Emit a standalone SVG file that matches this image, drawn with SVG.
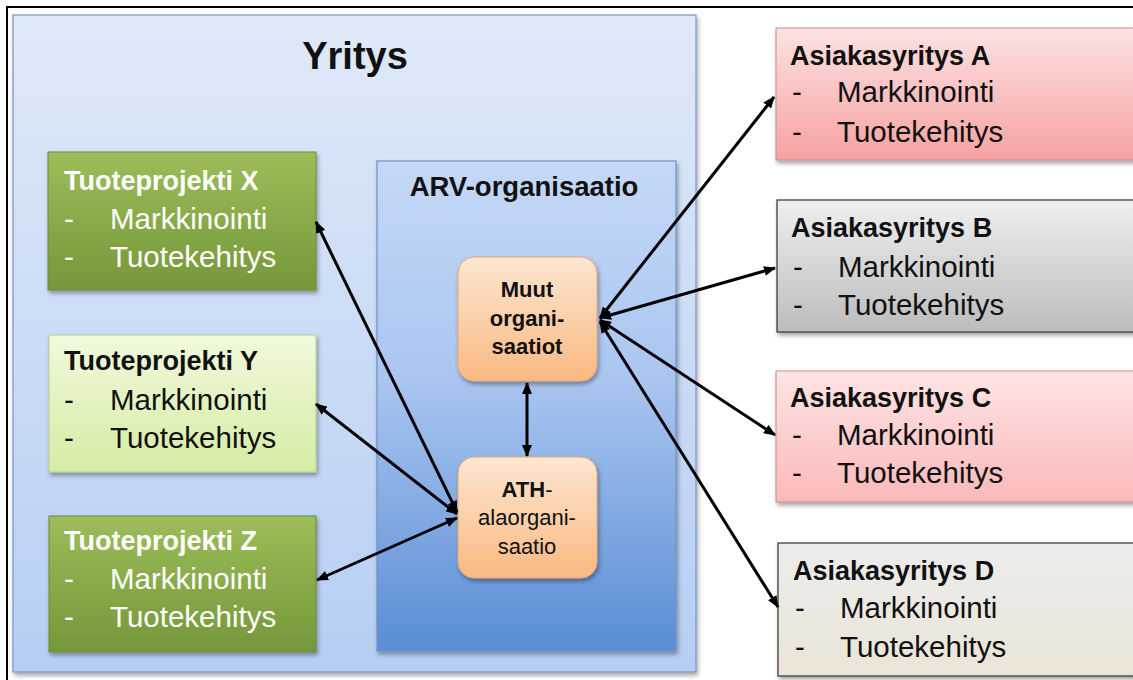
<svg xmlns="http://www.w3.org/2000/svg" width="1133" height="680" viewBox="0 0 1133 680">
  <defs>
    <linearGradient id="gYritys" x1="0" y1="0" x2="0" y2="1">
      <stop offset="0" stop-color="#dfe9f8"/>
      <stop offset="1" stop-color="#b6cef4"/>
    </linearGradient>
    <linearGradient id="gArv" x1="0" y1="0" x2="0" y2="1">
      <stop offset="0" stop-color="#c5d8f7"/>
      <stop offset="0.45" stop-color="#a9c5f0"/>
      <stop offset="1" stop-color="#5a8dd5"/>
    </linearGradient>
    <linearGradient id="gOrange" x1="0" y1="0" x2="0" y2="1">
      <stop offset="0" stop-color="#fde6d1"/>
      <stop offset="1" stop-color="#fab981"/>
    </linearGradient>
    <linearGradient id="gGreen" x1="0" y1="0" x2="0" y2="1">
      <stop offset="0" stop-color="#9cbd59"/>
      <stop offset="1" stop-color="#76973a"/>
    </linearGradient>
    <linearGradient id="gLight" x1="0" y1="0" x2="0" y2="1">
      <stop offset="0" stop-color="#f1f9dc"/>
      <stop offset="1" stop-color="#d5eca4"/>
    </linearGradient>
    <linearGradient id="gRed" x1="0" y1="0" x2="0" y2="1">
      <stop offset="0" stop-color="#fde2e2"/>
      <stop offset="1" stop-color="#f6a2a2"/>
    </linearGradient>
    <linearGradient id="gRedLight" x1="0" y1="0" x2="0" y2="1">
      <stop offset="0" stop-color="#fee4e4"/>
      <stop offset="1" stop-color="#fbb9b9"/>
    </linearGradient>
    <linearGradient id="gGray" x1="0" y1="0" x2="0" y2="1">
      <stop offset="0" stop-color="#efefef"/>
      <stop offset="1" stop-color="#bcbcbc"/>
    </linearGradient>
    <linearGradient id="gBeige" x1="0" y1="0" x2="0" y2="1">
      <stop offset="0" stop-color="#ececec"/>
      <stop offset="1" stop-color="#ebe5d7"/>
    </linearGradient>
    <filter id="shadow" x="-10%" y="-10%" width="125%" height="130%">
      <feDropShadow dx="1.5" dy="3" stdDeviation="2" flood-color="#000" flood-opacity="0.35"/>
    </filter>
    <marker id="arrow" viewBox="0 0 12 10" refX="11" refY="5" markerWidth="12" markerHeight="10" markerUnits="userSpaceOnUse" orient="auto-start-reverse">
      <path d="M0,0 L12,5 L0,10 z" fill="#000"/>
    </marker>
  </defs>
  <style>
    text { font-family: "Liberation Sans", Arial, sans-serif; }
    .title { font-weight: bold; font-size: 27px; }
    .item { font-size: 29.5px; }
    .white { fill: #ffffff; }
    .dark { fill: #111111; }
    .conn { stroke: #000; stroke-width: 3; fill: none; marker-start: url(#arrow); marker-end: url(#arrow); }
  </style>

  <!-- frame -->
  <rect x="0" y="0" width="1133" height="680" fill="#ffffff"/>
  <line x1="6" y1="7" x2="1133" y2="7" stroke="#000" stroke-width="2"/>
  <line x1="7" y1="6" x2="7" y2="680" stroke="#000" stroke-width="2"/>

  <!-- company container -->
  <g id="yritys">
    <rect x="13" y="15" width="683" height="657" fill="url(#gYritys)" stroke="#7896c4" stroke-width="1.2" filter="url(#shadow)"/>
    <text x="355" y="69" text-anchor="middle" font-weight="bold" font-size="38" class="dark">Yritys</text>
  </g>

  <g id="arv">
    <rect x="377" y="161" width="299" height="490" fill="url(#gArv)" stroke="#6e91c4" stroke-width="1.2" filter="url(#shadow)"/>
    <text x="524" y="196" text-anchor="middle" font-weight="bold" font-size="27.5" class="dark">ARV-organisaatio</text>
  </g>

  <g id="muut">
    <rect x="458" y="257" width="139" height="124" rx="16" fill="url(#gOrange)" stroke="#e6a676" stroke-width="1" filter="url(#shadow)"/>
    <text x="527" y="297" text-anchor="middle" font-weight="bold" font-size="22" class="dark">Muut</text>
    <text x="527" y="326" text-anchor="middle" font-weight="bold" font-size="22" class="dark">organi-</text>
    <text x="527" y="354" text-anchor="middle" font-weight="bold" font-size="22" class="dark">saatiot</text>
  </g>

  <g id="ath">
    <rect x="458" y="457" width="139" height="121" rx="16" fill="url(#gOrange)" stroke="#e6a676" stroke-width="1" filter="url(#shadow)"/>
    <text x="527" y="497" text-anchor="middle" font-size="22" class="dark"><tspan font-weight="bold">ATH</tspan>-</text>
    <text x="527" y="525" text-anchor="middle" font-size="22" class="dark">alaorgani-</text>
    <text x="527" y="554" text-anchor="middle" font-size="22" class="dark">saatio</text>
  </g>

  <!-- product projects -->
  <g id="projekti-x">
    <rect x="48" y="152" width="268" height="138" fill="url(#gGreen)" stroke="#6c8c33" stroke-width="1" filter="url(#shadow)"/>
    <text x="64" y="190" class="title white">Tuoteprojekti X</text>
    <text x="64" y="229" class="item white">-</text>
    <text x="110" y="229" class="item white">Markkinointi</text>
    <text x="64" y="267" class="item white">-</text>
    <text x="110" y="267" class="item white">Tuotekehitys</text>
  </g>

  <g id="projekti-y">
    <rect x="49" y="335" width="267" height="137" fill="url(#gLight)" stroke="#b9cf8c" stroke-width="1" filter="url(#shadow)"/>
    <text x="64" y="370" class="title dark">Tuoteprojekti Y</text>
    <text x="64" y="410" class="item dark">-</text>
    <text x="110" y="410" class="item dark">Markkinointi</text>
    <text x="64" y="448" class="item dark">-</text>
    <text x="110" y="448" class="item dark">Tuotekehitys</text>
  </g>

  <g id="projekti-z">
    <rect x="49" y="516" width="267" height="136" fill="url(#gGreen)" stroke="#6c8c33" stroke-width="1" filter="url(#shadow)"/>
    <text x="64" y="550" class="title white">Tuoteprojekti Z</text>
    <text x="64" y="589" class="item white">-</text>
    <text x="110" y="589" class="item white">Markkinointi</text>
    <text x="64" y="627" class="item white">-</text>
    <text x="110" y="627" class="item white">Tuotekehitys</text>
  </g>

  <!-- customer companies -->
  <g id="asiakas-a">
    <rect x="776" y="28" width="370" height="132" fill="url(#gRed)" stroke="#cc8a8a" stroke-width="1" filter="url(#shadow)"/>
    <text x="790" y="65" class="title dark">Asiakasyritys A</text>
    <text x="792" y="102" class="item dark">-</text>
    <text x="837" y="102" class="item dark">Markkinointi</text>
    <text x="792" y="142" class="item dark">-</text>
    <text x="837" y="142" class="item dark">Tuotekehitys</text>
  </g>

  <g id="asiakas-b">
    <rect x="777" y="200" width="370" height="132" fill="url(#gGray)" stroke="#333333" stroke-width="1.2" filter="url(#shadow)"/>
    <text x="791" y="237" class="title dark">Asiakasyritys B</text>
    <text x="793" y="277" class="item dark">-</text>
    <text x="838" y="277" class="item dark">Markkinointi</text>
    <text x="793" y="315" class="item dark">-</text>
    <text x="838" y="315" class="item dark">Tuotekehitys</text>
  </g>

  <g id="asiakas-c">
    <rect x="776" y="371" width="370" height="131" fill="url(#gRedLight)" stroke="#cc8a8a" stroke-width="1" filter="url(#shadow)"/>
    <text x="790" y="407" class="title dark">Asiakasyritys C</text>
    <text x="792" y="445" class="item dark">-</text>
    <text x="837" y="445" class="item dark">Markkinointi</text>
    <text x="792" y="483" class="item dark">-</text>
    <text x="837" y="483" class="item dark">Tuotekehitys</text>
  </g>

  <g id="asiakas-d">
    <rect x="778" y="543" width="370" height="133" fill="url(#gBeige)" stroke="#333333" stroke-width="1.2" filter="url(#shadow)"/>
    <text x="793" y="580" class="title dark">Asiakasyritys D</text>
    <text x="795" y="618" class="item dark">-</text>
    <text x="840" y="618" class="item dark">Markkinointi</text>
    <text x="795" y="657" class="item dark">-</text>
    <text x="840" y="657" class="item dark">Tuotekehitys</text>
  </g>

  <!-- connectors -->
  <g id="connectors">
    <line class="conn" x1="600" y1="318" x2="774" y2="97"/>
    <line class="conn" x1="600" y1="318" x2="775" y2="268"/>
    <line class="conn" x1="600" y1="320" x2="775" y2="435"/>
    <line class="conn" x1="600" y1="322" x2="778" y2="607"/>
    <line class="conn" x1="527" y1="383" x2="527" y2="456"/>
    <line class="conn" x1="457" y1="512" x2="316" y2="222"/>
    <line class="conn" x1="457" y1="514" x2="316" y2="404"/>
    <line class="conn" x1="457" y1="518" x2="317" y2="580"/>
  </g>
</svg>
